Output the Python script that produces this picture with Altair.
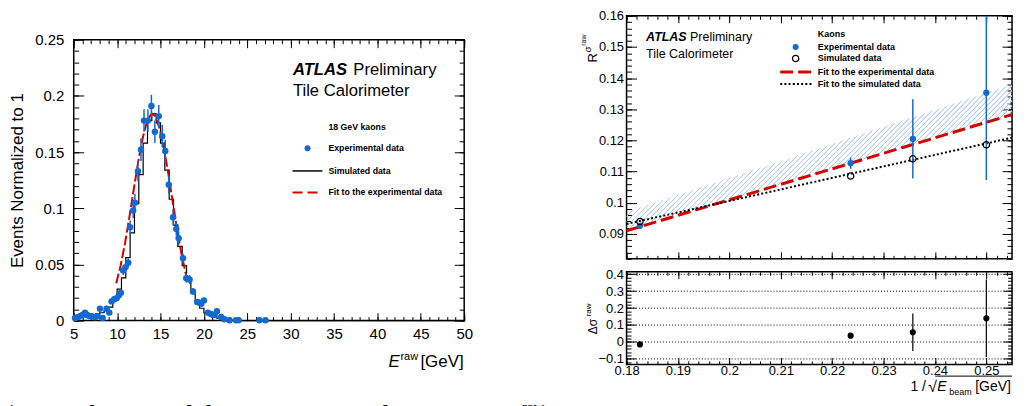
import altair as alt
import pandas as pd

FONT = "Liberation Sans"
SERIF = "Liberation Serif"
BLUE = "#1369d2"
RED = "#d40000"
HATCH = "#a9c9ee"

# ---------------- left panel : 18 GeV kaons ----------------
exp_E = [5.15, 5.45, 5.7, 6.0, 6.3, 6.55, 6.8, 7.1, 7.45, 7.75,
         8.02, 8.33, 8.79, 9.1, 9.36, 9.67, 9.94, 10.2, 10.43, 10.7,
         10.97, 11.28, 11.5, 11.85, 12.05, 12.4, 12.75, 13.1, 13.55, 13.95,
         14.35, 14.8, 15.2, 15.55, 15.95, 16.45, 16.82, 17.09, 17.59, 17.97,
         18.35, 18.74, 19.23, 19.5, 19.7, 20.0, 20.46, 20.75, 21.0, 21.25,
         21.5, 21.99, 22.37, 22.94, 23.7, 24.0, 26.4, 27.1]
exp_val = [0.0024, 0.003, 0.004, 0.005, 0.0071, 0.005, 0.004, 0.004, 0.003, 0.004,
           0.0106, 0.0024, 0.0106, 0.0071, 0.0171, 0.019, 0.020, 0.0225, 0.0248, 0.0446,
           0.0476, 0.0514, 0.083, 0.098, 0.105, 0.133, 0.152, 0.178, 0.178, 0.191,
           0.168, 0.182, 0.164, 0.151, 0.121, 0.092, 0.0816, 0.0733, 0.0556, 0.0378,
           0.0366, 0.026, 0.0166, 0.016, 0.015, 0.018, 0.0071, 0.006, 0.0053, 0.005,
           0.0083, 0.0033, 0.0012, 0.0003, 0.0003, 0.0003, 0.0003, 0.0003]
exp_err = [0.001, 0.001, 0.001, 0.001, 0.001, 0.001, 0.001, 0.001, 0.001, 0.001,
           0.002, 0.001, 0.002, 0.001, 0.002, 0.002, 0.002, 0.002, 0.002, 0.004,
           0.004, 0.004, 0.006, 0.007, 0.008, 0.009, 0.010, 0.010, 0.010, 0.010,
           0.010, 0.010, 0.010, 0.010, 0.008, 0.007, 0.006, 0.006, 0.004, 0.004,
           0.004, 0.003, 0.002, 0.002, 0.002, 0.002, 0.001, 0.001, 0.001, 0.001,
           0.001, 0.001, 0.001, 0.0005, 0.0005, 0.0005, 0.0005, 0.0005]

sim_lo = [5.0, 5.5, 6.0, 6.5, 7.0, 7.5, 8.0, 8.5, 9.0, 9.5,
          10.0, 10.5, 11.0, 11.5, 12.0, 12.5, 13.0, 13.5, 14.0, 14.5,
          15.0, 15.5, 16.0, 16.5, 17.0, 17.5, 18.0, 18.5, 19.0, 19.5,
          20.0, 20.5, 21.0, 21.5, 22.0, 22.5, 23.0, 23.5, 24.0, 50.0]
sim_val = [0.004, 0.005, 0.005, 0.005, 0.005, 0.006, 0.007, 0.009, 0.012, 0.018,
           0.028, 0.038, 0.056, 0.078, 0.104, 0.130, 0.158, 0.178, 0.184, 0.176,
           0.158, 0.134, 0.108, 0.085, 0.066, 0.049, 0.035, 0.025, 0.017, 0.011,
           0.007, 0.005, 0.003, 0.002, 0.001, 0.0006, 0.0003, 0.0001, 0.0, 0.0]

fit_E = [9.9, 10.4, 10.9, 11.4, 11.9, 12.4, 12.9, 13.4, 13.9, 14.05,
         14.4, 14.9, 15.4, 15.9, 16.4, 16.9, 17.4, 17.9, 18.2]
fit_val = [0.0332, 0.0488, 0.0685, 0.0915, 0.116, 0.140, 0.161, 0.176, 0.1836, 0.184,
           0.1818, 0.171, 0.153, 0.131, 0.106, 0.082, 0.060, 0.042, 0.0332]

lx_major = [5, 10, 15, 20, 25, 30, 35, 40, 45, 50]
lx_minor = list(range(5, 51))
ly_major = [0, 0.05, 0.1, 0.15, 0.2, 0.25]
ly_minor = [round(0.01 * i, 2) for i in range(26)]

# ---------------- right panel : R vs 1/sqrt(E_beam) ----------------
beam_x = [0.1826, 0.2236, 0.2357, 0.2500]
exp_R = [0.0926, 0.1127, 0.1205, 0.1353]
exp_R_err = [0.0008, 0.0018, 0.0127, 0.0280]
sim_R = [0.0940, 0.1086, 0.1141, 0.1186]
fit_x = [0.180, 0.255]
fit_exp = [0.0910, 0.1283]
fit_sim = [0.0932, 0.1209]
band_hi = [0.0970, 0.1380]
delta = [-0.015, 0.037, 0.057, 0.139]
delta_err = [0.004, 0.006, 0.110, 0.230]

rx_major = [0.18, 0.19, 0.2, 0.21, 0.22, 0.23, 0.24, 0.25]
rx_minor = [round(0.18 + 0.002 * i, 3) for i in range(38)]
ry_major = [0.09, 0.1, 0.11, 0.12, 0.13, 0.14, 0.15, 0.16]
ry_minor = [round(0.082 + 0.002 * i, 3) for i in range(40)]
by_major = [-0.1, 0, 0.1, 0.2, 0.3, 0.4]
by_minor = [round(-0.12 + 0.02 * i, 2) for i in range(27)]

# ---------------- scales ----------------
lx = alt.Scale(domain=[5, 50], nice=False, zero=False)
ly = alt.Scale(domain=[0, 0.25], nice=False, zero=False)
rx = alt.Scale(domain=[0.18, 0.255], nice=False, zero=False)
ry = alt.Scale(domain=[0.082, 0.16], nice=False, zero=False)
by = alt.Scale(domain=[-0.133, 0.414], nice=False, zero=False)

LW, LH = 392, 282
RW, RH, BH = 387, 244, 93


def label_axis(orient, values, lsize, lpad, title=None, tsize=16, tpad=8):
    kw = dict(orient=orient, values=values, tickSize=0, ticks=False, domain=False,
              grid=False, labels=True, format="~g", labelFont=FONT, labelFontSize=lsize,
              labelColor="black", labelPadding=lpad, labelOverlap=False, labelFlush=False,
              title=title)
    if title:
        kw.update(titleFont=FONT, titleFontSize=tsize, titleFontWeight="normal",
                  titleColor="black", titlePadding=tpad)
    return alt.Axis(**kw)


def tick_axis(side, values, size, w, h):
    # ticks drawn on the inner side of the frame
    orient = {"bottom": "top", "top": "bottom", "left": "right", "right": "left"}[side]
    off = -h if side in ("bottom", "top") else -w
    return alt.Axis(orient=orient, values=values, tickSize=size, offset=off, domain=False,
                    grid=False, labels=False, ticks=True, tickColor="black", tickWidth=1,
                    title=None)


def grid_axis(values):
    return alt.Axis(orient="left", values=values, grid=True, gridDash=[1, 2],
                    gridColor="black", gridWidth=1, ticks=False, labels=False,
                    domain=False, title=None)


def carriers(xs, ys, x_axes, y_axes, xm, ym):
    out = []
    n = max(len(x_axes), len(y_axes))
    for i in range(n):
        xa = x_axes[i] if i < len(x_axes) else None
        ya = y_axes[i] if i < len(y_axes) else None
        out.append(alt.Chart(pd.DataFrame({"x": [xm], "y": [ym]})).mark_point(opacity=0).encode(
            x=alt.X("x:Q", scale=xs, axis=xa), y=alt.Y("y:Q", scale=ys, axis=ya)))
    return out


def txt(x, y, s, xs, ys, size, weight="normal", style="normal", align="left",
        baseline="alphabetic", angle=0, font=FONT):
    return alt.Chart(pd.DataFrame({"x": [x], "y": [y]})).mark_text(
        text=s, fontSize=size, fontWeight=weight, fontStyle=style, align=align,
        baseline=baseline, angle=angle, font=font, color="black").encode(
        x=alt.X("x:Q", scale=xs, axis=None), y=alt.Y("y:Q", scale=ys, axis=None))


def seg(x1, x2, y, xs, ys, color, width, dash=None):
    mk = dict(color=color, strokeWidth=width)
    if dash:
        mk["strokeDash"] = dash
    return alt.Chart(pd.DataFrame({"x": [x1], "x2": [x2], "y": [y]})).mark_rule(**mk).encode(
        x=alt.X("x:Q", scale=xs, axis=None), x2="x2:Q", y=alt.Y("y:Q", scale=ys, axis=None))


def dot(x, y, xs, ys, color, size, filled=True):
    if filled:
        m = alt.Chart(pd.DataFrame({"x": [x], "y": [y]})).mark_circle(color=color, size=size, opacity=1)
    else:
        m = alt.Chart(pd.DataFrame({"x": [x], "y": [y]})).mark_point(
            shape="circle", filled=False, stroke=color, strokeWidth=1.3, size=size, opacity=1)
    return m.encode(x=alt.X("x:Q", scale=xs, axis=None), y=alt.Y("y:Q", scale=ys, axis=None))


# ================= LEFT CHART =================
exp_df = pd.DataFrame({"E": exp_E, "v": exp_val,
                       "lo": [v - e for v, e in zip(exp_val, exp_err)],
                       "hi": [v + e for v, e in zip(exp_val, exp_err)]})
sim_df = pd.DataFrame({"E": sim_lo, "v": sim_val})
fit_df = pd.DataFrame({"E": fit_E, "v": fit_val})

L = []
L.append(alt.Chart(sim_df).mark_line(interpolate="step-after", color="black", strokeWidth=1.2).encode(
    x=alt.X("E:Q", scale=lx, axis=None), y=alt.Y("v:Q", scale=ly, axis=None)))
L.append(alt.Chart(fit_df).mark_line(color=RED, strokeWidth=2, strokeDash=[10, 3]).encode(
    x=alt.X("E:Q", scale=lx, axis=None), y=alt.Y("v:Q", scale=ly, axis=None)))
L.append(alt.Chart(exp_df).mark_rule(color=BLUE, strokeWidth=1.5).encode(
    x=alt.X("E:Q", scale=lx, axis=None), y=alt.Y("lo:Q", scale=ly, axis=None), y2="hi:Q"))
L.append(alt.Chart(exp_df).mark_circle(color=BLUE, size=42, opacity=1).encode(
    x=alt.X("E:Q", scale=lx, axis=None), y=alt.Y("v:Q", scale=ly, axis=None)))
# labels / legend
L.append(txt(30.26, 0.219, "ATLAS", lx, ly, 16.7, weight="bold", style="italic"))
L.append(txt(37.22, 0.219, "Preliminary", lx, ly, 16.7))
L.append(txt(30.26, 0.1997, "Tile Calorimeter", lx, ly, 16.7))
L.append(txt(34.35, 0.172, "18 GeV kaons", lx, ly, 8.8, weight="bold", baseline="middle"))
L.append(dot(31.94, 0.1534, lx, ly, BLUE, 36))
L.append(txt(34.35, 0.1534, "Experimental data", lx, ly, 8.8, weight="bold", baseline="middle"))
L.append(seg(30.22, 33.66, 0.1332, lx, ly, "black", 1.5))
L.append(txt(34.35, 0.1332, "Simulated data", lx, ly, 8.8, weight="bold", baseline="middle"))
L.append(seg(30.22, 33.66, 0.1141, lx, ly, RED, 2, [10, 5]))
L.append(txt(34.35, 0.1141, "Fit to the experimental data", lx, ly, 8.8, weight="bold", baseline="middle"))
# axis title pieces
L.append(txt(41.28, -0.0417, "E", lx, ly, 17, style="italic"))
L.append(txt(42.65, -0.0355, "raw", lx, ly, 11))
L.append(txt(44.95, -0.0417, "[GeV]", lx, ly, 17))
# caption (cut by the window)
L.append(txt(-2.347, -0.0922, ") Distribution of the reconstructed energy", lx, ly, 28, font=SERIF))
L.append(txt(54.48, -0.0922, "E", lx, ly, 28, style="italic", font=SERIF))
L.append(txt(56.66, -0.0817, "raw", lx, ly, 15, font=SERIF))

L += carriers(lx, ly,
              [label_axis("bottom", lx_major, 15, 6),
               tick_axis("bottom", lx_major, 8, LW, LH), tick_axis("bottom", lx_minor, 4, LW, LH),
               tick_axis("top", lx_major, 8, LW, LH), tick_axis("top", lx_minor, 4, LW, LH)],
              [label_axis("left", ly_major, 15, 10, title="Events Normalized to 1", tsize=17, tpad=8),
               tick_axis("left", ly_major, 10, LW, LH), tick_axis("left", ly_minor, 5, LW, LH),
               tick_axis("right", ly_major, 10, LW, LH), tick_axis("right", ly_minor, 5, LW, LH)],
              30, 0.1)

left = alt.layer(*L).resolve_axis(x="independent", y="independent").properties(width=LW, height=LH)

spacer = alt.Chart(pd.DataFrame({"s": [0]})).mark_point(opacity=0).encode(
    x=alt.X("s:Q", axis=None), y=alt.Y("s:Q", axis=None)).properties(
    width=1, height=15, view=alt.ViewBackground(stroke="transparent"))

left_group = alt.vconcat(spacer, left, spacing=0)

# ================= RIGHT TOP =================
Wb, Hb = float(RW), 146.0
r = Hb / Wb
u = (1 + r) / (1 + r * r)
v = u * r
N = 106
stops = []
clear = "rgba(255,255,255,0)"
for k in range(N):
    o = k / N
    stops += [{"offset": o, "color": clear},
              {"offset": o + 0.10 / N, "color": HATCH},
              {"offset": o + 0.26 / N, "color": HATCH},
              {"offset": o + 0.36 / N, "color": clear}]
gradient = {"gradient": "linear", "x1": 0, "y1": 0, "x2": u, "y2": v, "stops": stops}

band_df = pd.DataFrame({"x": fit_x, "hi": band_hi, "lo": fit_exp})
fitl_df = pd.DataFrame({"x": fit_x, "exp": fit_exp, "sim": fit_sim})
rexp_df = pd.DataFrame({"x": beam_x, "R": exp_R,
                        "lo": [a - b for a, b in zip(exp_R, exp_R_err)],
                        "hi": [a + b for a, b in zip(exp_R, exp_R_err)]})
rsim_df = pd.DataFrame({"x": beam_x, "R": sim_R})

T = []
T.append(alt.Chart(band_df).mark_area(fill=gradient).encode(
    x=alt.X("x:Q", scale=rx, axis=None), y=alt.Y("hi:Q", scale=ry, axis=None), y2="lo:Q"))
T.append(alt.Chart(fitl_df).mark_line(color=RED, strokeWidth=3, strokeDash=[13, 5]).encode(
    x=alt.X("x:Q", scale=rx, axis=None), y=alt.Y("exp:Q", scale=ry, axis=None)))
T.append(alt.Chart(fitl_df).mark_line(color="black", strokeWidth=2, strokeDash=[2, 2.2]).encode(
    x=alt.X("x:Q", scale=rx, axis=None), y=alt.Y("sim:Q", scale=ry, axis=None)))
T.append(alt.Chart(rexp_df).mark_rule(color=BLUE, strokeWidth=1.5, clip=True).encode(
    x=alt.X("x:Q", scale=rx, axis=None), y=alt.Y("lo:Q", scale=ry, axis=None), y2="hi:Q"))
T.append(alt.Chart(rexp_df).mark_circle(color=BLUE, size=40, opacity=1).encode(
    x=alt.X("x:Q", scale=rx, axis=None), y=alt.Y("R:Q", scale=ry, axis=None)))
T.append(alt.Chart(rsim_df).mark_point(shape="circle", filled=False, stroke="black", strokeWidth=1.3,
                                       size=40, opacity=1).encode(
    x=alt.X("x:Q", scale=rx, axis=None), y=alt.Y("R:Q", scale=ry, axis=None)))
T.append(txt(0.1838, 0.1518, "ATLAS", rx, ry, 12.5, weight="bold", style="italic"))
T.append(txt(0.19236, 0.1518, "Preliminary", rx, ry, 12.5))
T.append(txt(0.1838, 0.1465, "Tile Calorimeter", rx, ry, 12.5))
T.append(txt(0.2172, 0.1540, "Kaons", rx, ry, 9, weight="bold", baseline="middle"))
T.append(dot(0.2129, 0.1500, rx, ry, BLUE, 36))
T.append(txt(0.2172, 0.1500, "Experimental data", rx, ry, 9, weight="bold", baseline="middle"))
T.append(dot(0.2129, 0.1463, rx, ry, "black", 40, filled=False))
T.append(txt(0.2172, 0.1463, "Simulated data", rx, ry, 9, weight="bold", baseline="middle"))
T.append(seg(0.2099, 0.2160, 0.1420, rx, ry, RED, 3, [13, 5]))
T.append(txt(0.2172, 0.1420, "Fit to the experimental data", rx, ry, 9, weight="bold", baseline="middle"))
T.append(seg(0.2099, 0.2160, 0.1381, rx, ry, "black", 2, [2, 2.2]))
T.append(txt(0.2172, 0.1381, "Fit to the simulated data", rx, ry, 9, weight="bold", baseline="middle"))
# y title R^{sigma^{raw}}
T.append(txt(0.17419, 0.1450, "R", rx, ry, 13, angle=270))
T.append(txt(0.17302, 0.1482, "σ", rx, ry, 10, angle=270))
T.append(txt(0.17205, 0.1504, "raw", rx, ry, 7, angle=270))

T += carriers(rx, ry,
              [tick_axis("bottom", rx_major, 7, RW, RH), tick_axis("bottom", rx_minor, 3.5, RW, RH),
               tick_axis("top", rx_major, 7, RW, RH), tick_axis("top", rx_minor, 3.5, RW, RH)],
              [label_axis("left", ry_major, 13, 3),
               tick_axis("left", ry_major, 10, RW, RH), tick_axis("left", ry_minor, 5, RW, RH),
               tick_axis("right", ry_major, 10, RW, RH), tick_axis("right", ry_minor, 5, RW, RH)],
              0.2, 0.12)

rtop = alt.layer(*T).resolve_axis(x="independent", y="independent").properties(width=RW, height=RH)

# ================= RIGHT BOTTOM =================
d_df = pd.DataFrame({"x": beam_x, "d": delta,
                     "lo": [a - b for a, b in zip(delta, delta_err)],
                     "hi": [a + b for a, b in zip(delta, delta_err)]})
B = []
B.append(alt.Chart(d_df).mark_rule(color="black", strokeWidth=1.2).encode(
    x=alt.X("x:Q", scale=rx, axis=None), y=alt.Y("lo:Q", scale=by, axis=None), y2="hi:Q"))
B.append(alt.Chart(d_df).mark_circle(color="black", size=38, opacity=1).encode(
    x=alt.X("x:Q", scale=rx, axis=None), y=alt.Y("d:Q", scale=by, axis=None)))
# y title Delta sigma^raw
B.append(txt(0.17419, 0.0452, "Δσ", rx, by, 12, angle=270))
B.append(txt(0.17302, 0.151, "raw", rx, by, 8, angle=270))
# x title 1 / sqrt(E_beam) [GeV]
B.append(txt(0.23523, -0.2900, "1 /", rx, by, 14))
B.append(txt(0.23872, -0.2960, "√", rx, by, 16))
B.append(seg(0.24008, 0.25500, -0.2020, rx, by, "black", 1))
B.append(txt(0.24047, -0.2900, "E", rx, by, 14, style="italic"))
B.append(txt(0.24279, -0.3136, "beam", rx, by, 9))
B.append(txt(0.24783, -0.2900, "[GeV]", rx, by, 14))

B += carriers(rx, by,
              [label_axis("bottom", rx_major, 13, 0),
               tick_axis("bottom", rx_major, 7, RW, BH), tick_axis("bottom", rx_minor, 3.5, RW, BH),
               tick_axis("top", rx_major, 7, RW, BH), tick_axis("top", rx_minor, 3.5, RW, BH)],
              [label_axis("left", by_major, 13, 3),
               tick_axis("left", by_major, 9, RW, BH), tick_axis("left", by_minor, 4.5, RW, BH),
               tick_axis("right", by_major, 9, RW, BH), tick_axis("right", by_minor, 4.5, RW, BH),
               grid_axis(by_major)],
              0.2, 0.1)

rbot = alt.layer(*B).resolve_axis(x="independent", y="independent").properties(width=RW, height=BH)

right_group = alt.vconcat(rtop, rbot, spacing=6)

chart = alt.hconcat(left_group, right_group, spacing=33,
                    padding={"left": 0, "top": 0, "right": 0, "bottom": 0}).configure_view(
    stroke="black", strokeWidth=1.5)

chart.save("out.html", embed_options={"renderer": "svg", "actions": False})
